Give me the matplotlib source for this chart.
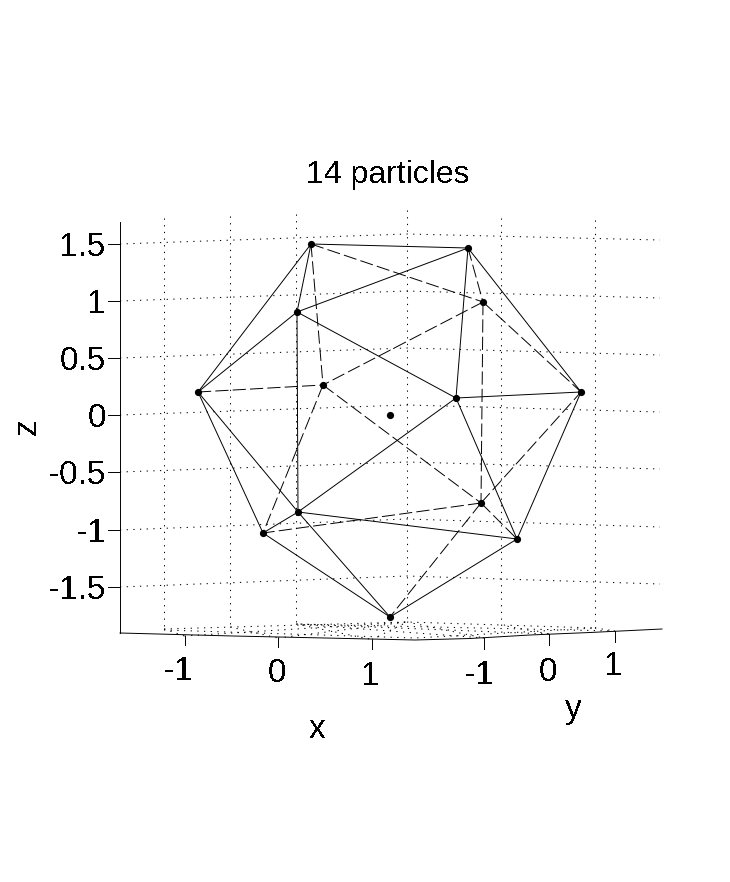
import matplotlib
matplotlib.use("Agg")
import matplotlib.pyplot as plt

plt.rcParams['font.family'] = ['Liberation Sans', 'DejaVu Sans']
plt.rcParams['text.antialiased'] = False
plt.rcParams['lines.scale_dashes'] = False

# particle positions (screen x, y)
names = ["A", "B", "C", "D", "E", "F", "G", "H", "I", "J", "K", "L", "M", "N"]
px = [311, 468, 483, 297, 198, 323, 390, 456, 581, 298, 481, 263, 517, 390]
py = [244, 248, 302, 312, 392, 385, 415, 398, 392, 512, 503, 533, 539, 617]

front_edges = ["AB", "AD", "AE", "DE", "DB", "DH", "DJ", "BH", "BI", "HI", "HJ", "HM", "IM",
               "EJ", "EL", "JL", "JM", "JN", "LN", "NM"]
back_edges = ["AF", "AC", "BC", "CF", "CI", "CK", "EF", "FL", "FK", "KI", "KM", "KN", "KL"]

# z gridlines: screen y at left end, back corner, right end
z_labels = ["1.5", "1", "0.5", "0", "-0.5", "-1", "-1.5"]
z_left = [244, 301, 358, 415, 472, 530, 587]
z_back = [234, 291, 348, 405, 462, 519, 576]
z_right = [240, 298, 355, 412, 469, 527, 584]
grid_x = [120, 407, 660]

# vertical gridlines on the walls
wall_x = [164, 230, 296, 407, 501, 595]
wall_top = [218, 216, 214, 210, 218, 220]
wall_bot = [629, 627, 624, 622, 625, 628]

# floor gridlines end at the front ticks
x_labels = ["-1", "0", "1"]
x_tick_x = [184.5, 278, 372]
x_tick_y = [636, 638, 639.5]
x_label_x = [178, 277, 371]
x_label_y = [668, 670, 673]
y_labels = ["-1", "0", "1"]
y_tick_x = [484, 549, 615]
y_tick_y = [638, 634, 631]
y_label_x = [479, 548, 614]
y_label_y = [672, 669, 663]

# front floor edge
edge_x = [120, 233, 325, 415, 470, 530, 590, 662]
edge_y = [633, 636, 638, 640, 638.5, 635, 632.5, 629]

pos = dict(zip(names, zip(px, py)))

fig = plt.figure(figsize=(7.3, 8.82), dpi=100)
ax = fig.add_axes([0, 0, 1, 1])
ax.set_xlim(0, 730)
ax.set_ylim(882, 0)
ax.axis("off")

dots = dict(color="k", lw=0.75, linestyle=(0, (0.9, 3.9)))
for a, b, c in zip(z_left, z_back, z_right):
    ax.plot(grid_x, [a, b, c], **dots)
for x, t, b in zip(wall_x, wall_top, wall_bot):
    ax.plot([x, x], [t, b], **dots)

# floor outline and grid, both directions
ax.plot([164, 407, 595], [629, 622, 628], **dots)
ax.plot([164, 415, 595], [630, 638, 628], **dots)
for i in range(3):
    ax.plot([wall_x[i], x_tick_x[i]], [wall_bot[i], x_tick_y[i]], **dots)
    ax.plot([wall_x[i + 3], y_tick_x[i]], [wall_bot[i + 3], y_tick_y[i]], **dots)
    ax.plot([x_tick_x[i], wall_x[3]], [x_tick_y[i], wall_bot[3]], **dots)
    ax.plot([y_tick_x[i], wall_x[2]], [y_tick_y[i], wall_bot[2]], **dots)

# axes box
solid = dict(color="k", lw=0.7)
ax.plot([120, 120], [222, 633], **solid)
ax.plot(edge_x, edge_y, **solid)

for lab, y in zip(z_labels, z_left):
    ax.plot([108, 120], [y, y], **solid)
    ax.text(106, y, lab, ha="right", va="center_baseline", fontsize=24)
for lab, x, y, lx, ly in zip(x_labels, x_tick_x, x_tick_y, x_label_x, x_label_y):
    ax.plot([x, x], [y, y + 9], **solid)
    ax.text(lx, ly, lab, ha="center", va="center_baseline", fontsize=24)
for lab, x, y, lx, ly in zip(y_labels, y_tick_x, y_tick_y, y_label_x, y_label_y):
    ax.plot([x, x], [y, y + 11], **solid)
    ax.text(lx, ly, lab, ha="center", va="center_baseline", fontsize=24)

# edges between particles
for e in back_edges:
    p, q = pos[e[0]], pos[e[1]]
    ax.plot([p[0], q[0]], [p[1], q[1]], color="k", lw=0.7, linestyle=(0, (9.5, 3)))
for e in front_edges:
    p, q = pos[e[0]], pos[e[1]]
    ax.plot([p[0], q[0]], [p[1], q[1]], **solid)

ax.plot(px, py, "o", color="k", ms=5.2, mew=0, zorder=5)

ax.text(388, 172, "14 particles", ha="center", va="center_baseline", fontsize=23)
ax.text(317, 726, "x", ha="center", va="center_baseline", fontsize=24)
ax.text(573, 706, "y", ha="center", va="center_baseline", fontsize=24)
ax.text(27, 427, "z", ha="center", va="center", rotation=90, fontsize=24)

fig.savefig("out.png", dpi=100)
